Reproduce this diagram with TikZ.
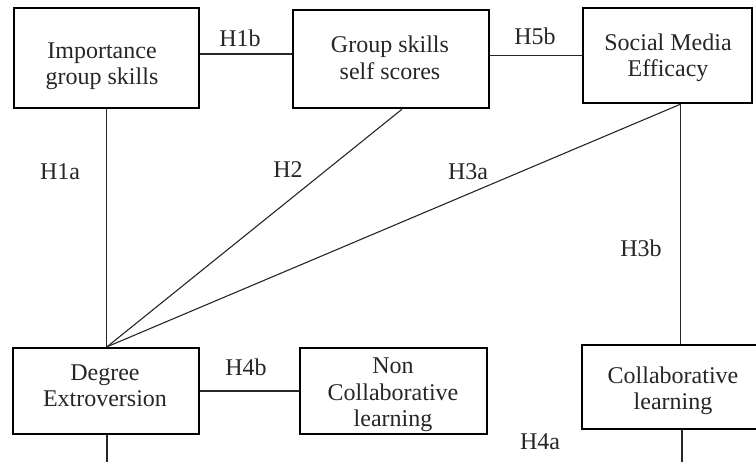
\documentclass[tikz,border=0pt]{standalone}
\usepackage{fontspec}
\setmainfont{Liberation Serif}
\begin{document}
\begin{tikzpicture}[x=1pt,y=-1pt,
  box/.style={draw, line width=2.4pt, inner sep=0pt},
  txt/.style={align=center, inner sep=0pt, text=black!85, font=\fontsize{24}{26.5}\selectfont},
  lab/.style={inner sep=0pt, text=black!85, font=\fontsize{24}{26.5}\selectfont},
  conn/.style={line width=1.1pt, black!85}]
\useasboundingbox (0,0) rectangle (756,462);
% boxes
\node[box, minimum width=185pt, minimum height=100pt] (imp) at (106.5,58) {};
\node[box, minimum width=196pt, minimum height=98pt] (gss) at (391,59) {};
\node[box, minimum width=169pt, minimum height=95pt] (sme) at (667.5,55.5) {};
\node[box, minimum width=186pt, minimum height=86pt] (deg) at (106,391) {};
\node[box, minimum width=187pt, minimum height=86pt] (ncl) at (393.5,391) {};
\node[box, minimum width=182pt, minimum height=84pt] (col) at (673,387) {};
% texts
\node[txt] (impt) at (102,66) {Importance\\group skills};
\node[txt] (gsst) at (390,58) {Group skills\\self scores};
\node[txt] (smet) at (668,58) {Social Media\\Efficacy};
\node[txt] (degt) at (105,386) {Degree\\Extroversion};
\node[txt] (nclt) at (393,395) {Non\\Collaborative\\learning};
\node[txt] (colt) at (673,391) {Collaborative\\learning};
% free ends
\coordinate (degdown) at (107,470);
\coordinate (coldown) at (682,470);
% connectors
\draw[conn] ([yshift=4pt]imp.east) -- ([yshift=4pt]imp.east -| gss.west);
\draw[conn] (sme.west -| gss.east) -- (sme.west);
\draw[conn] (imp.south) -- (imp.south |- deg.north);
\draw[conn] ([xshift=11pt]gss.south) -- ([xshift=1pt]deg.north);
\draw[conn] ([xshift=13pt]sme.south) -- ([xshift=1pt]deg.north);
\draw[conn] ([xshift=13pt]sme.south) -- ([xshift=13pt]sme.south |- col.north);
\draw[conn] (deg.east) -- (ncl.west);
\draw[conn] (deg.south -| degdown) -- (degdown);
\draw[conn] (col.south -| coldown) -- (coldown);
% labels
\node[lab] (h1b) at (240,38) {H1b};
\node[lab] (h5b) at (535,36) {H5b};
\node[lab] (h1a) at (60,172) {H1a};
\node[lab] (h2) at (288,170) {H2};
\node[lab] (h3a) at (468,172) {H3a};
\node[lab] (h3b) at (641,248) {H3b};
\node[lab] (h4b) at (246,367) {H4b};
\node[lab] (h4a) at (540,442) {H4a};
\end{tikzpicture}
\end{document}
